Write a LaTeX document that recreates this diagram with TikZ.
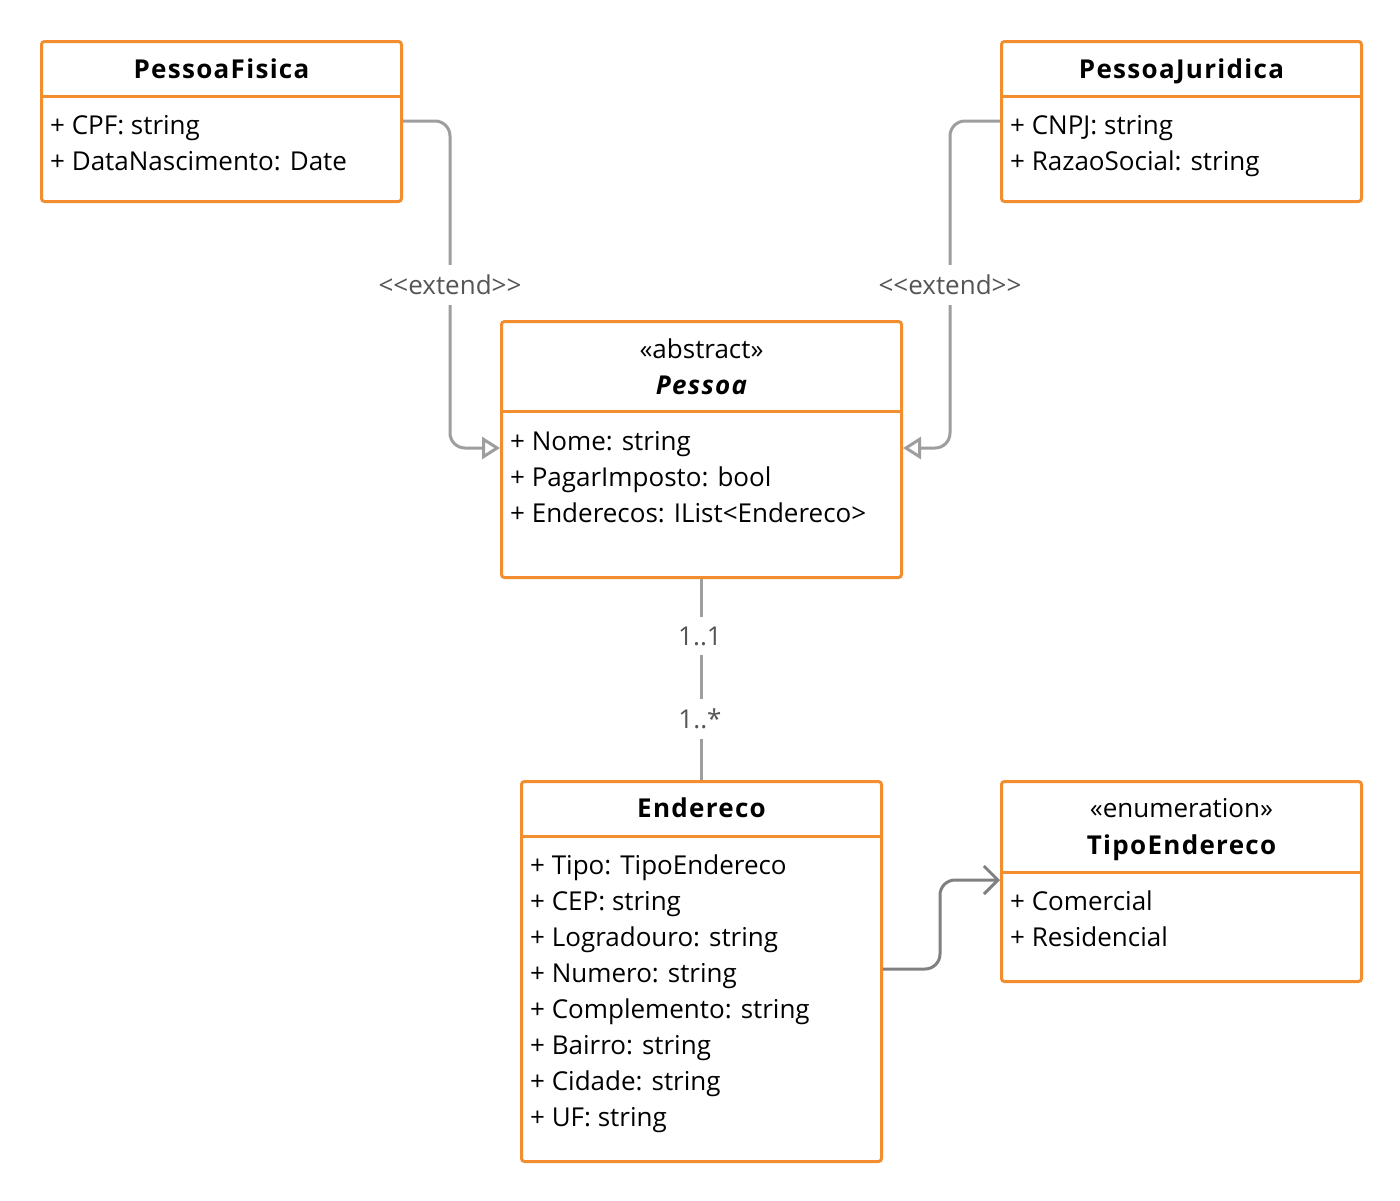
\documentclass[tikz,border=0pt]{standalone}
\usepackage{fontspec}
\setmainfont{Open Sans}
\usetikzlibrary{arrows.meta,calc}
\definecolor{umlorange}{RGB}{242,142,46}
\definecolor{extgray}{RGB}{158,158,158}
\definecolor{assocgray}{RGB}{128,128,128}
\definecolor{lblgray}{RGB}{85,85,85}
\newcommand{\fsz}{\fontsize{26}{31}\selectfont}
\newcommand{\tsz}{\fontsize{26}{31}\selectfont\bfseries\addfontfeature{LetterSpace=5}}
\begin{document}
\begin{tikzpicture}[x=1pt,y=-1pt,
 umlbox/.style={draw=umlorange, line width=3pt, rounded corners=3pt, inner sep=0pt, anchor=north west, fill=white},
 divider/.style={draw=umlorange, line width=3pt},
 attr/.style={anchor=mid west, inner sep=0pt, font=\fsz},
 ttl/.style={anchor=mid, inner sep=0pt, font=\tsz},
 ittl/.style={anchor=mid, inner sep=0pt, font=\tsz\itshape},
 stereo/.style={anchor=mid, inner sep=0pt, font=\fsz},
 conn/.style={draw=extgray, line width=3pt, rounded corners=15pt},
 lbl/.style={fill=white, text=lblgray, inner xsep=2pt, inner ysep=10pt, font=\fsz}
]
\useasboundingbox[fill=white] (0,0) rectangle (1400,1200);

% PessoaFisica
\node[umlbox, minimum width=360pt, minimum height=160pt] (pf) at (40,40) {};
\draw[divider] ($(pf.north west)+(0,56)$) -- ($(pf.north east)+(0,56)$);
\node[ttl] (pft) at ($(pf.north)+(0,36)$) {PessoaFisica};
\node[attr] (pfa1) at ($(pf.north west)+(10,92)$) {+ CPF: string};
\node[attr] (pfa2) at ($(pf.north west)+(10,128)$) {+ DataNascimento: Date};

% PessoaJuridica
\node[umlbox, minimum width=360pt, minimum height=160pt] (pj) at (1000,40) {};
\draw[divider] ($(pj.north west)+(0,56)$) -- ($(pj.north east)+(0,56)$);
\node[ttl] (pjt) at ($(pj.north)+(0,36)$) {PessoaJuridica};
\node[attr] (pja1) at ($(pj.north west)+(10,92)$) {+ CNPJ: string};
\node[attr] (pja2) at ($(pj.north west)+(10,128)$) {+ RazaoSocial: string};

% Pessoa
\node[umlbox, minimum width=400pt, minimum height=256pt] (pe) at (500,320) {};
\draw[divider] ($(pe.north west)+(0,91)$) -- ($(pe.north east)+(0,91)$);
\node[stereo] (pes) at ($(pe.north)+(0,36)$) {«abstract»};
\node[ittl] (pet) at ($(pe.north)+(0,72)$) {Pessoa};
\node[attr] (pea1) at ($(pe.north west)+(10,128)$) {+ Nome: string};
\node[attr] (pea2) at ($(pe.north west)+(10,164)$) {+ PagarImposto: bool};
\node[attr] (pea3) at ($(pe.north west)+(10,200)$) {+ Enderecos: IList<Endereco>};

% Endereco
\node[umlbox, minimum width=360pt, minimum height=380pt] (en) at (520,780) {};
\draw[divider] ($(en.north west)+(0,56)$) -- ($(en.north east)+(0,56)$);
\node[ttl] (ent) at ($(en.north)+(0,35)$) {Endereco};
\node[attr] (ena1) at ($(en.north west)+(10,92)$) {+ Tipo: TipoEndereco};
\node[attr] (ena2) at ($(en.north west)+(10,128)$) {+ CEP: string};
\node[attr] (ena3) at ($(en.north west)+(10,164)$) {+ Logradouro: string};
\node[attr] (ena4) at ($(en.north west)+(10,200)$) {+ Numero: string};
\node[attr] (ena5) at ($(en.north west)+(10,236)$) {+ Complemento: string};
\node[attr] (ena6) at ($(en.north west)+(10,272)$) {+ Bairro: string};
\node[attr] (ena7) at ($(en.north west)+(10,308)$) {+ Cidade: string};
\node[attr] (ena8) at ($(en.north west)+(10,344)$) {+ UF: string};

% TipoEndereco
\node[umlbox, minimum width=360pt, minimum height=200pt] (te) at (1000,780) {};
\draw[divider] ($(te.north west)+(0,92)$) -- ($(te.north east)+(0,92)$);
\node[stereo] (tes) at ($(te.north)+(0,35)$) {«enumeration»};
\node[ttl] (tet) at ($(te.north)+(0,72)$) {TipoEndereco};
\node[attr] (tea1) at ($(te.north west)+(10,128)$) {+ Comercial};
\node[attr] (tea2) at ($(te.north west)+(10,164)$) {+ Residencial};

% connectors
\coordinate (pfout) at ($(pf.north east)+(0,81)$);
\coordinate (pfbend) at (450,285);
\coordinate (pein) at ($(pe.north west)+(0,128)$);
\draw[conn, -{Triangle[open, length=18pt, width=22pt, line width=3pt]}] (pfout) -| (pfbend) |- (pein);
\node[lbl] (ext1) at (pfbend) {<{}<extend>{}>};

\coordinate (pjout) at ($(pj.north west)+(0,81)$);
\coordinate (pjbend) at (950,285);
\coordinate (pein2) at ($(pe.north east)+(0,128)$);
\draw[conn, -{Triangle[open, length=18pt, width=22pt, line width=3pt]}] (pjout) -| (pjbend) |- (pein2);
\node[lbl] (ext2) at (pjbend) {<{}<extend>{}>};

\draw[conn] (pe.south) -- (en.north);
\node[lbl] (m1) at (700,636) {1..1};
\node[lbl] (m2) at (700,719) {1..*};

\coordinate (enout) at ($(en.north east)+(0,189)$);
\coordinate (enbend) at (940,925);
\coordinate (tein) at ($(te.north west)+(0,100)$);
\draw[conn, draw=assocgray, -{Straight Barb[length=14pt, width=28pt, line width=3pt]}] (enout) -| (enbend) |- (tein);
\end{tikzpicture}
\end{document}
